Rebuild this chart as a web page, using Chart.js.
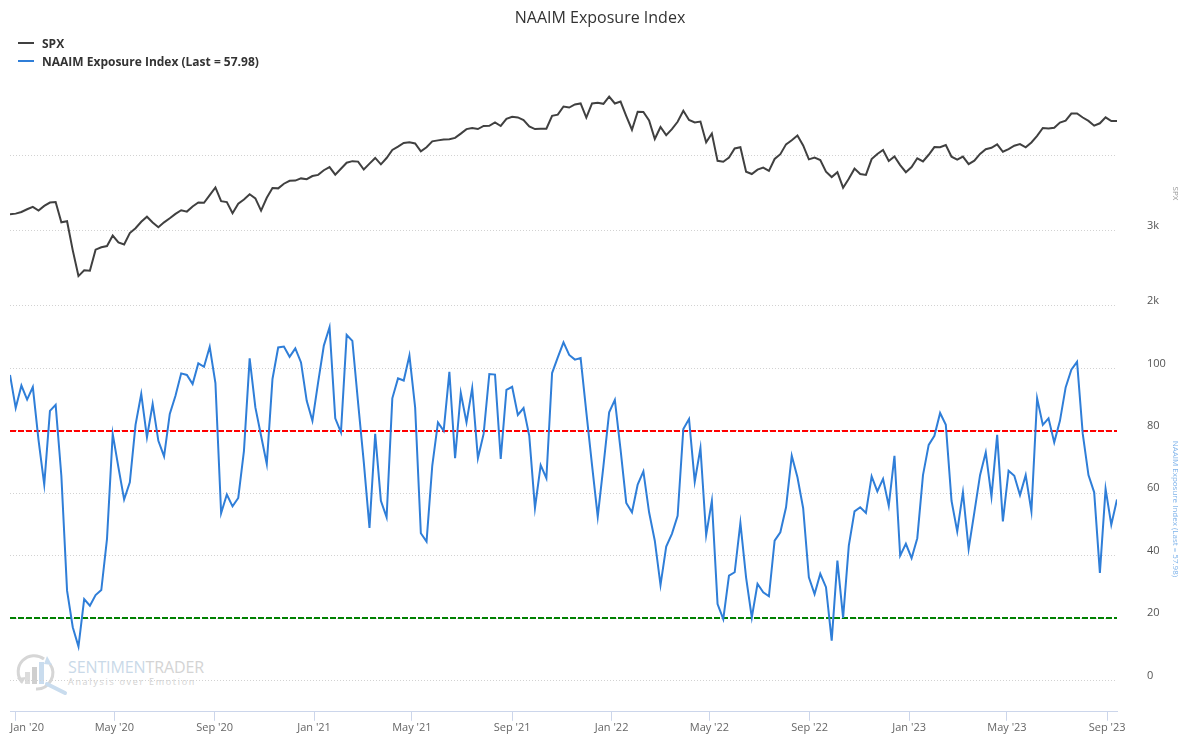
<!DOCTYPE html>
<html lang="en">
<head>
<meta charset="UTF-8">
<title>NAAIM Exposure Index</title>
<script src="https://cdn.jsdelivr.net/npm/chart.js"></script>
<style>
    body { margin: 0; background: #fff; font-family: 'Open Sans', sans-serif; }
    #wrap { position: relative; width: 1200px; height: 750px; }
    #title { position: absolute; top: 5px; left: 0; width: 1200px; text-align: center; font-size: 16px; line-height: 24px; color: #333; }
    #legend { position: absolute; left: 18px; top: 34px; font-size: 12px; font-weight: bold; color: #333; }
    .item { display: flex; align-items: center; height: 18px; }
    .swatch { width: 16px; height: 2px; margin-right: 8px; }
    #mark { position: absolute; left: 14px; top: 652px; width: 210px; height: 44px; }
    #mark .name { position: absolute; left: 54px; top: 5px; font-size: 16px; letter-spacing: -0.1px; line-height: 20px; }
    #mark .sub { position: absolute; left: 54px; top: 24px; font-size: 9px; letter-spacing: 1.7px; line-height: 12px; color: #d2d2d2; }
    canvas { position: absolute; left: 0; top: 0; }
</style>
</head>
<body>
<div id="wrap">
    <div id="mark">
        <svg width="56" height="44" viewBox="0 0 56 44">
            <path d="M8 30 A16 16 0 0 1 30 7" fill="none" stroke="#d6d6d6" stroke-width="3"/>
            <path d="M36 12 A16 16 0 0 1 22 37" fill="none" stroke="#d6d6d6" stroke-width="3"/>
            <path d="M3 26 L8 32 L12 25 Z" fill="#d6d6d6"/>
            <path d="M33 4 L38 13 L30 12 Z" fill="#c9dcee"/>
            <rect x="11" y="20" width="5" height="12" fill="#dcdcdc"/>
            <rect x="18" y="15" width="5" height="17" fill="#cfcfcf"/>
            <rect x="25" y="10" width="5" height="22" fill="#c9dcee"/>
            <line x1="33" y1="32" x2="51" y2="41" stroke="#c9dcee" stroke-width="4" stroke-linecap="round"/>
        </svg>
        <div class="name"><span style="color:#c9d9e8">SENTIMEN</span><span style="color:#d4d4d4">TRADER</span></div>
        <div class="sub">Analysis over Emotion</div>
    </div>
    <canvas id="naaimChart" width="1200" height="750"></canvas>
    <div id="title">NAAIM Exposure Index</div>
    <div id="legend">
        <div class="item"><span class="swatch" style="background:#404040"></span>SPX</div>
        <div class="item"><span class="swatch" style="background:#2f7ed8"></span>NAAIM Exposure Index (Last = 57.98)</div>
    </div>
</div>

<script>
    // weekly readings, first one on 2019-12-25
    const firstWeek = '2019-12-25';

    const spx = [
        3223, 3231, 3253, 3289, 3321, 3273, 3334, 3379, 3386, 3116,
        3130, 2741, 2398, 2475, 2470, 2750, 2783, 2799, 2939, 2848,
        2820, 2972, 3036, 3122, 3190, 3113, 3050, 3115, 3169, 3227,
        3276, 3258, 3327, 3380, 3375, 3478, 3580, 3398, 3385, 3237,
        3363, 3419, 3489, 3435, 3271, 3443, 3572, 3568, 3630, 3669,
        3672, 3701, 3690, 3732,
        3748, 3810, 3851, 3750, 3830, 3910, 3931, 3925, 3820, 3898,
        3974, 3889, 3973, 4080, 4124, 4173, 4183, 4167, 4063, 4116,
        4195, 4208, 4220, 4223, 4241, 4298, 4358, 4374, 4359, 4400,
        4402, 4447, 4400, 4496, 4524, 4514, 4480, 4395, 4359, 4363,
        4364, 4536, 4551, 4660, 4646, 4688, 4701, 4513, 4701, 4709,
        4696, 4793,
        4700, 4726, 4533, 4350, 4589, 4587, 4475, 4226, 4387, 4278,
        4357, 4456, 4602, 4481, 4447, 4459, 4183, 4300, 3935, 3923,
        3978, 4101, 4116, 3790, 3759, 3818, 3845, 3801, 3960, 4024,
        4155, 4210, 4274, 4141, 3955, 3980, 3946, 3790, 3719, 3783,
        3577, 3695, 3831, 3759, 3748, 3959, 4027, 4080, 3933, 3995,
        3879, 3783,
        3853, 3969, 3928, 4016, 4119, 4117, 4147, 3991, 3951, 3992,
        3892, 3937, 4027, 4091, 4109, 4155, 4056, 4091, 4137, 4158,
        4115, 4180, 4268, 4373, 4366, 4376, 4446, 4472, 4565, 4566,
        4513, 4468, 4404, 4436, 4515, 4465, 4467
    ];

    const naaim = [
        97.9, 87.3, 94.5, 90.0, 94.0, 77.0, 62.8, 86.4, 88.3, 65.6,
        28.8, 17.1, 10.9, 26.1, 24.0, 27.4, 29.0, 45.4, 79.0, 68.3,
        58.0, 63.5, 81.9, 91.8, 77.9, 88.6, 76.8, 71.8, 85.4, 91.2,
        98.4, 97.9, 95.0, 101.6, 100.5, 106.9, 95.3, 53.6, 59.6, 55.8,
        58.5, 73.6, 103.2, 87.5, 78.4, 69.4, 96.6, 106.7, 107.0, 103.7,
        106.4, 101.9, 89.6, 83.2,
        95.5, 107.3, 113.2, 84.0, 79.5, 110.7, 108.8, 89.0, 70.0, 48.9,
        79.0, 57.6, 52.3, 90.4, 96.8, 96.1, 104.1, 87.5, 47.2, 44.5,
        68.8, 82.7, 80.0, 98.9, 71.2, 92.1, 82.7, 93.7, 71.2, 79.0,
        98.2, 98.0, 71.0, 93.1, 94.1, 85.1, 87.3, 78.4, 55.3, 69.0,
        64.8, 98.5, 103.5, 108.3, 104.3, 102.8, 103.3, 86.0, 69.0, 52.5,
        68.8, 85.9,
        89.9, 74.0, 56.9, 53.9, 62.8, 67.0, 53.9, 44.8, 30.6, 42.9,
        47.0, 52.8, 80.6, 83.8, 63.7, 74.5, 46.6, 57.6, 24.5, 19.7,
        33.6, 34.7, 50.5, 33.0, 20.2, 31.0, 28.3, 27.0, 44.8, 47.5,
        55.5, 72.0, 65.1, 55.2, 33.1, 27.7, 34.2, 29.9, 12.8, 38.4,
        20.1, 43.2, 54.2, 55.5, 53.7, 65.4, 60.6, 64.6, 56.0, 72.0,
        40.0, 43.8,
        39.2, 45.6, 65.8, 75.5, 78.4, 85.7, 81.9, 57.6, 47.8, 60.3,
        42.2, 53.9, 65.8, 73.1, 58.9, 78.7, 51.0, 67.2, 65.6, 59.4,
        65.8, 54.2, 90.4, 81.9, 84.0, 76.3, 83.2, 93.9, 99.6, 102.1,
        79.0, 65.8, 60.3, 34.5, 61.4, 49.9, 57.98
    ];

    const xTickDates = ['2020-01-01', '2020-05-01', '2020-09-01', '2021-01-01', '2021-05-01', '2021-09-01',
                        '2022-01-01', '2022-05-01', '2022-09-01', '2023-01-01', '2023-05-01', '2023-09-01'];
    const xTickLabels = ["Jan '20", "May '20", "Sep '20", "Jan '21", "May '21", "Sep '21",
                         "Jan '22", "May '22", "Sep '22", "Jan '23", "May '23", "Sep '23"];
    const spxTicks = [2000, 3000, 4000];
    const spxTickLabels = ['2k', '3k', ''];
    const naaimTicks = [0, 20, 40, 60, 80, 100];
    const thresholds = [80, 20];
    const thresholdColors = ['#ff0000', '#008000'];

    const DAY = 864e5;
    const toDay = s => Date.parse(s + 'T00:00:00Z') / DAY;
    const weeks = spx.map((_, i) => toDay(firstWeek) + 7 * i);

    Chart.defaults.font.family = "'Open Sans', sans-serif";

    // dashed 80 / 20 levels on the NAAIM pane
    const thresholdLines = {
        id: 'thresholdLines',
        beforeDatasetsDraw(chart) {
            const { ctx, chartArea, scales } = chart;
            ctx.save();
            ctx.lineWidth = 2;
            ctx.setLineDash([6, 2]);
            thresholds.forEach((v, i) => {
                const py = Math.round(scales.yNaaim.getPixelForValue(v));
                ctx.strokeStyle = thresholdColors[i];
                ctx.beginPath();
                ctx.moveTo(chartArea.left, py);
                ctx.lineTo(chartArea.right, py);
                ctx.stroke();
            });
            ctx.restore();
        }
    };

    const gridStyle = { drawTicks: false, color: '#d2d2d2', lineWidth: 1 };
    // both right-hand axes share one column of this width
    const fixWidth = s => { s.width = 67; };

    new Chart(document.getElementById('naaimChart'), {
        type: 'line',
        data: {
            datasets: [{
                label: 'SPX',
                data: weeks.map((d, i) => ({ x: d, y: spx[i] })),
                yAxisID: 'ySpx',
                borderColor: '#404040',
                borderWidth: 2,
                pointRadius: 0,
                tension: 0
            }, {
                label: 'NAAIM Exposure Index (Last = 57.98)',
                data: weeks.map((d, i) => ({ x: d, y: naaim[i] })),
                yAxisID: 'yNaaim',
                borderColor: '#2f7ed8',
                borderWidth: 2,
                pointRadius: 0,
                tension: 0
            }]
        },
        options: {
            responsive: false,
            animation: false,
            layout: { padding: { top: 81, left: 10, right: 16, bottom: 16 } },
            plugins: {
                legend: { display: false },
                tooltip: { enabled: false }
            },
            scales: {
                x: {
                    type: 'linear',
                    min: weeks[0],
                    max: weeks[weeks.length - 1],
                    afterBuildTicks: s => { s.ticks = xTickDates.map(d => ({ value: toDay(d) })); },
                    afterFit: s => { s.paddingLeft = 0; s.paddingRight = 0; },
                    ticks: {
                        autoSkip: false,
                        maxRotation: 0,
                        padding: 0,
                        color: '#666',
                        font: { size: 11 },
                        // first label is pushed inside the plot, like the original
                        callback: (v, i) => (i === 0 ? '        ' : '') + xTickLabels[i]
                    },
                    grid: { drawOnChartArea: false, tickLength: 9, color: '#ccd6eb' },
                    border: { color: '#ccd6eb' }
                },
                ySpx: {
                    position: 'right',
                    stack: 'panes',
                    stackWeight: 225,
                    min: 2000,
                    max: 5000,
                    afterBuildTicks: s => { s.ticks = spxTicks.map(v => ({ value: v })); },
                    afterFit: fixWidth,
                    ticks: { padding: 30, labelOffset: -5, color: '#555', font: { size: 11 }, callback: (v, i) => spxTickLabels[i] },
                    grid: gridStyle,
                    border: { display: false, dash: [1, 2] },
                    title: { display: true, text: 'SPX', color: '#999', font: { size: 8 } }
                },
                yNaaim: {
                    position: 'right',
                    stack: 'panes',
                    stackWeight: 406,
                    min: -10,
                    max: 120,
                    afterBuildTicks: s => { s.ticks = naaimTicks.map(v => ({ value: v })); },
                    afterFit: fixWidth,
                    ticks: { padding: 30, labelOffset: -5, color: '#555', font: { size: 11 } },
                    grid: gridStyle,
                    border: { display: false, dash: [1, 2] },
                    title: { display: true, text: 'NAAIM Exposure Index (Last = 57.98)', color: '#7fb3ea', font: { size: 8 } }
                }
            }
        },
        plugins: [thresholdLines]
    });
</script>
</body>
</html>
